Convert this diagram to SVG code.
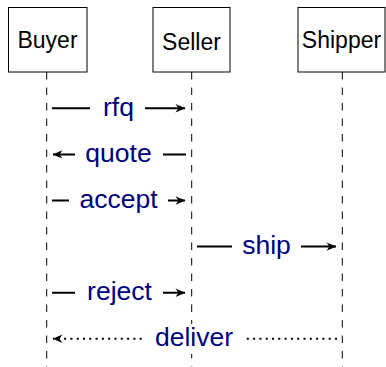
<svg xmlns="http://www.w3.org/2000/svg" width="386" height="367" viewBox="0 0 386 367">
<style>
.box{fill:#fff;stroke:#000;stroke-width:1}
.ntext{font-family:"Liberation Sans",Arial,sans-serif;font-size:23px;fill:#000;text-anchor:middle}
.life{stroke:#000;stroke-width:1;stroke-dasharray:7.5 8;fill:none}
.msg{stroke:#000;stroke-width:2;fill:none}
.dot{stroke-dasharray:2 4.3}
.lbg{fill:#fff;stroke:none}
.ltext{font-family:"Liberation Sans",Arial,sans-serif;font-size:26.5px;fill:#000080;text-anchor:middle}
</style>
<defs>
<marker id="ah" markerUnits="userSpaceOnUse" markerWidth="12" markerHeight="12" viewBox="-11 -6 12 12" refX="0" refY="0" orient="auto">
<path d="M0.5,0 L-9.5,-4.2 L-6.5,0 L-9.5,4.2 Z" fill="#000"/>
</marker>
</defs>
<g id="lifelines">
<line class="life" x1="46.7" y1="72" x2="46.7" y2="367"/>
<line class="life" x1="191.7" y1="72" x2="191.7" y2="367"/>
<line class="life" x1="342.3" y1="72" x2="342.3" y2="367"/>
</g>
<g id="buyer">
<rect class="box" x="8.5" y="7.5" width="78.5" height="64.5"/>
<text class="ntext" x="47.5" y="48">Buyer</text>
</g>
<g id="seller">
<rect class="box" x="153" y="7.5" width="77" height="64.5"/>
<text class="ntext" x="191.5" y="50">Seller</text>
</g>
<g id="shipper">
<rect class="box" x="298" y="7.5" width="87" height="64.5"/>
<text class="ntext" x="341.5" y="48">Shipper</text>
</g>
<g id="connectors">
<line class="msg" x1="52" y1="108.3" x2="185" y2="108.3" marker-end="url(#ah)"/>
<line class="msg" x1="186" y1="154.4" x2="53" y2="154.4" marker-end="url(#ah)"/>
<line class="msg" x1="52" y1="200.5" x2="185" y2="200.5" marker-end="url(#ah)"/>
<line class="msg" x1="197" y1="246.6" x2="336" y2="246.6" marker-end="url(#ah)"/>
<line class="msg" x1="52" y1="292.7" x2="185" y2="292.7" marker-end="url(#ah)"/>
<line class="msg dot" x1="337" y1="338.8" x2="54" y2="338.8"/>
<line class="msg" x1="54" y1="338.8" x2="53" y2="338.8" marker-end="url(#ah)"/>
</g>
<g id="labels">
<rect class="lbg" x="90" y="94" width="55" height="30"/>
<text class="ltext" x="118.5" y="115.5">rfq</text>
<rect class="lbg" x="75" y="140" width="88" height="30"/>
<text class="ltext" x="118.5" y="161.5">quote</text>
<rect class="lbg" x="69" y="186" width="99" height="30"/>
<text class="ltext" x="118.5" y="207.7">accept</text>
<rect class="lbg" x="232" y="232" width="69" height="30"/>
<text class="ltext" x="266.5" y="253.8">ship</text>
<rect class="lbg" x="75" y="278" width="88" height="30"/>
<text class="ltext" x="119.5" y="299.9">reject</text>
<rect class="lbg" x="145" y="324" width="101" height="30"/>
<text class="ltext" x="194" y="346">deliver</text>
</g>
</svg>
